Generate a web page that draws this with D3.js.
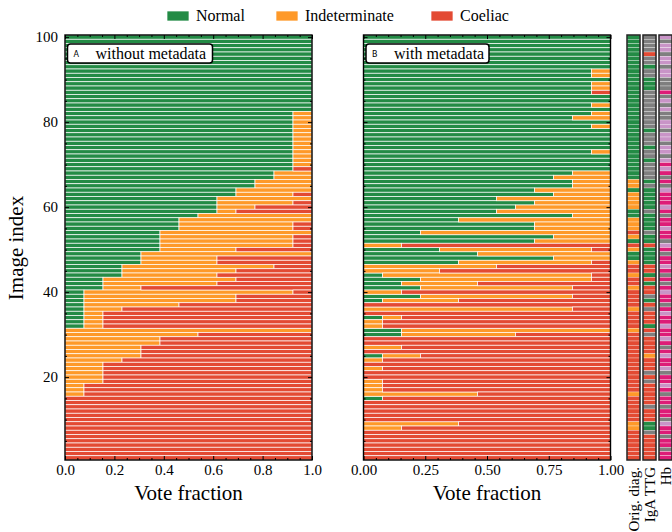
<!DOCTYPE html>
<html>
<head>
<meta charset="utf-8">
<script src="https://cdn.jsdelivr.net/npm/d3@7"></script>
<style>
  body { margin: 0; background: #fff; }
  text { font-family: "Liberation Serif", "DejaVu Serif", serif; fill: #000; }
</style>
</head>
<body>
<div id="chart"></div>
<script>
// 13 raters per image; rows are listed from image index 100 (top) down to 1
var nVotes = 13;
var classes = ['Normal', 'Indeterminate', 'Coeliac'];

var withoutNormal = [
  13,13,13,13,13,13,13,13,13,13, 13,13,13,13,13,13,13,13,12,12,
  12,12,12,12,12,12,12,12,12,12, 12,12,11,11,10,10,9,9,8,8,
  8,8,7,6,6,6,5,5,5,5, 5,4,4,4,3,3,3,2,2,2,
  1,1,1,1,1,1,1,1,1,0, 0,0,0,0,0,0,0,0,0,0,
  0,0,0,0,0,0,0,0,0,0, 0,0,0,0,0,0,0,0,0,0
];
var withoutIndet = [
  0,0,0,0,0,0,0,0,0,0, 0,0,0,0,0,0,0,0,1,1,
  1,1,1,1,1,1,1,1,1,1, 1,0,2,2,3,3,4,3,5,4,
  2,1,6,7,6,6,8,7,7,7, 4,9,4,4,8,6,5,7,6,2,
  11,8,8,5,2,1,1,1,1,13, 7,5,5,4,4,4,3,2,2,2,
  2,2,1,1,1,0,0,0,0,0, 0,0,0,0,0,0,0,0,0,0
];
var withoutCoeliac = [
  0,0,0,0,0,0,0,0,0,0, 0,0,0,0,0,0,0,0,0,0,
  0,0,0,0,0,0,0,0,0,0, 0,1,0,0,0,0,0,1,0,1,
  3,4,0,0,1,1,0,1,1,1, 4,0,5,5,2,4,5,4,5,9,
  1,4,4,7,10,11,11,11,11,0, 6,8,8,9,9,9,10,11,11,11,
  11,11,12,12,12,13,13,13,13,13, 13,13,13,13,13,13,13,13,13,13
];

var withNormal = [
  13,13,13,13,13,13,13,13,12,12, 13,12,12,12,13,13,12,13,12,11,
  13,12,13,13,13,13,13,12,13,13, 13,13,11,10,11,11,9,10,7,9,
  8,7,11,5,9,9,3,10,9,0, 4,6,10,5,0,0,1,3,2,3,
  0,3,1,0,0,0,1,0,0,2, 2,0,0,0,0,1,0,0,0,0,
  0,0,0,0,0,1,0,0,0,0, 0,0,0,0,0,0,0,0,0,0
];
var withIndet = [
  0,0,0,0,0,0,0,0,1,1, 0,1,1,0,0,0,1,0,1,2,
  0,1,0,0,0,0,0,1,0,0, 0,0,2,3,2,2,4,3,6,4,
  5,6,2,8,4,4,10,3,4,2, 8,7,3,7,7,4,11,9,4,8,
  2,8,4,0,11,0,1,1,1,11, 6,0,0,2,0,2,1,0,1,0,
  0,1,1,1,6,0,0,0,0,0, 0,5,2,0,0,0,0,0,0,0
];
var withCoeliac = [
  0,0,0,0,0,0,0,0,0,0, 0,0,0,1,0,0,0,0,0,0,
  0,0,0,0,0,0,0,0,0,0, 0,0,0,0,0,0,0,0,0,0,
  0,0,0,0,0,0,0,0,0,11, 1,0,0,1,6,9,1,1,7,2,
  11,2,8,13,2,13,11,12,12,0, 5,13,13,11,13,10,12,13,12,13,
  13,12,12,12,7,12,13,13,13,13, 13,8,11,13,13,13,13,13,13,13
];

// side strips: N normal, I indeterminate, C coeliac, U not available, L low, H high
var origDiag = [
  'N','N','N','N','N','N','N','N','N','N', 'N','N','N','N','N','N','N','N','N','N',
  'N','N','N','N','N','N','N','N','N','N', 'N','N','N','N','I','I','N','I','I','I',
  'I','N','N','I','I','I','C','I','N','C', 'I','N','N','I','C','C','I','C','C','I',
  'C','C','C','C','I','C','C','C','C','I', 'C','C','C','C','C','C','C','C','C','C',
  'C','C','C','C','I','C','C','C','C','C', 'C','I','I','C','C','C','C','C','C','C'
];
var igaTtg = [
  'U','U','U','U','C','U','U','N','U','U', 'N','N','N','U','U','U','U','U','U','U',
  'U','U','N','U','U','U','N','U','U','N', 'U','U','U','U','N','U','N','N','N','N',
  'N','U','N','N','N','N','U','N','N','C', 'N','N','N','N','C','C','N','C','N','C',
  'C','U','N','C','U','C','C','C','N','C', 'U','C','C','C','C','I','C','C','C','U',
  'C','U','C','C','C','C','C','U','C','C', 'C','N','N','U','C','C','C','C','C','C'
];
var hb = [
  'L','U','L','L','U','L','L','U','L','L', 'U','U','U','H','U','L','U','L','U','U',
  'L','L','U','L','L','U','L','L','U','L', 'H','L','H','U','H','U','L','H','H','H',
  'L','H','U','H','H','L','H','H','U','L', 'H','U','H','H','L','H','U','H','U','H',
  'L','H','H','U','H','L','H','H','L','H', 'H','L','H','U','H','L','H','H','L','U',
  'H','H','L','H','U','H','H','U','H','H', 'U','L','H','H','U','H','H','U','H','H'
];

var classColor = { Normal: '#238b45', Indeterminate: '#fe9929', Coeliac: '#e34a33' };
var diagColor = { N: '#238b45', I: '#fe9929', C: '#e34a33', U: '#7f7f7f' };
var hbColor = { U: '#7f7f7f', L: '#c994c7', H: '#dd1c77' };

var imageIndex = d3.range(100, 0, -1);

var svg = d3.select('#chart')
  .append('svg')
    .attr('width', 672)
    .attr('height', 532);

var y = d3.scaleLinear().domain([0.5, 100.5]).range([460, 35]);
var rowH = y(0.5) - y(1.5);

function drawPanel(x, normal, indet, coeliac, majorTicks, fmt, letter, label, boxW, showYLabels) {
  var table = imageIndex.map(function (idx, k) {
    return { idx: idx, Normal: normal[k] / nVotes, Indeterminate: indet[k] / nVotes, Coeliac: coeliac[k] / nVotes };
  });
  var series = d3.stack().keys(classes)(table);
  var g = svg.append('g');

  g.selectAll('g.series')
    .data(series)
    .enter().append('g')
      .classed('series', true)
      .style('fill', function (s) { return classColor[s.key]; })
    .selectAll('rect')
    .data(function (s) { return s.filter(function (d) { return d[1] - d[0] > 1e-9; }); })
    .enter().append('rect')
      .attr('x', function (d) { return x(d[0]); })
      .attr('width', function (d) { return x(d[1]) - x(d[0]); })
      .attr('y', function (d) { return y(d.data.idx + 0.5); })
      .attr('height', rowH)
      .style('stroke', '#fff')
      .style('stroke-width', 0.7);

  var x0 = x.range()[0], x1 = x.range()[1];
  var minorX = d3.range(0, 1.0001, 0.05).filter(function (v) {
    return !majorTicks.some(function (m) { return Math.abs(m - v) < 1e-6; });
  });
  var majorY = [20, 40, 60, 80, 100];
  var minorY = d3.range(5, 100, 5).filter(function (v) { return v % 20 !== 0; });

  function axisGroup(axis, tx, ty) {
    var a = g.append('g').attr('transform', 'translate(' + tx + ',' + ty + ')').call(axis);
    a.select('.domain').remove();
    a.selectAll('line').style('stroke', '#000').style('stroke-width', 1);
    a.selectAll('text').style('font-family', '"Liberation Serif", serif').style('font-size', '15px');
    return a;
  }

  axisGroup(d3.axisBottom(x).tickValues(majorTicks).tickFormat(fmt).tickSizeInner(-4).tickSizeOuter(0).tickPadding(4), 0, 460);
  axisGroup(d3.axisBottom(x).tickValues(minorX).tickFormat('').tickSizeInner(-2).tickSizeOuter(0), 0, 460);
  axisGroup(d3.axisTop(x).tickValues(majorTicks).tickFormat('').tickSizeInner(-4).tickSizeOuter(0), 0, 35);
  axisGroup(d3.axisTop(x).tickValues(minorX).tickFormat('').tickSizeInner(-2).tickSizeOuter(0), 0, 35);
  axisGroup(d3.axisLeft(y).tickValues(majorY).tickFormat(showYLabels ? d3.format('d') : '').tickSizeInner(-4).tickSizeOuter(0).tickPadding(7), x0, 0);
  axisGroup(d3.axisLeft(y).tickValues(minorY).tickFormat('').tickSizeInner(-2).tickSizeOuter(0), x0, 0);
  axisGroup(d3.axisRight(y).tickValues(majorY).tickFormat('').tickSizeInner(-4).tickSizeOuter(0), x1, 0);
  axisGroup(d3.axisRight(y).tickValues(minorY).tickFormat('').tickSizeInner(-2).tickSizeOuter(0), x1, 0);

  g.append('rect')
    .attr('x', x0).attr('y', 35)
    .attr('width', x1 - x0).attr('height', 425)
    .style('fill', 'none').style('stroke', '#000').style('stroke-width', 1.4);

  g.append('text')
    .attr('x', (x0 + x1) / 2).attr('y', 500)
    .attr('text-anchor', 'middle')
    .style('font-size', '21px')
    .text('Vote fraction');

  var box = g.append('g').attr('transform', 'translate(' + (x0 + 2.5) + ',44)');
  box.append('rect')
    .attr('width', boxW).attr('height', 19).attr('rx', 3)
    .style('fill', '#fff').style('stroke', '#000').style('stroke-width', 1.5);
  box.append('text')
    .attr('x', 6).attr('y', 12.5)
    .style('font-family', '"DejaVu Sans", sans-serif').style('font-size', '8px')
    .text(letter);
  box.append('text')
    .attr('x', 28).attr('y', 14.5)
    .style('font-size', '16px')
    .text(label);
}

drawPanel(d3.scaleLinear().domain([0, 1]).range([65, 312]),
  withoutNormal, withoutIndet, withoutCoeliac,
  [0, 0.2, 0.4, 0.6, 0.8, 1.0], d3.format('.1f'), 'A', 'without metadata', 145, true);
drawPanel(d3.scaleLinear().domain([0, 1]).range([363.5, 610.5]),
  withNormal, withIndet, withCoeliac,
  [0, 0.25, 0.5, 0.75, 1.0], d3.format('.2f'), 'B', 'with metadata', 123, false);

svg.append('text')
  .attr('transform', 'translate(23,248) rotate(-90)')
  .attr('text-anchor', 'middle')
  .style('font-size', '21px')
  .text('Image index');

// metadata strips
var strips = [
  { name: 'Orig. diag.', values: origDiag, colors: diagColor, x: 627 },
  { name: 'IgA TTG', values: igaTtg, colors: diagColor, x: 643 },
  { name: 'Hb', values: hb, colors: hbColor, x: 659 }
];
var stripW = 13;

var sg = svg.selectAll('g.strip')
  .data(strips)
  .enter().append('g')
    .classed('strip', true)
    .attr('transform', function (s) { return 'translate(' + s.x + ',0)'; });

sg.selectAll('rect.cell')
  .data(function (s) {
    return s.values.map(function (v, k) { return { v: v, idx: imageIndex[k], c: s.colors[v] }; });
  })
  .enter().append('rect')
    .classed('cell', true)
    .attr('x', 0)
    .attr('width', stripW)
    .attr('y', function (d) { return y(d.idx + 0.5); })
    .attr('height', rowH)
    .style('fill', function (d) { return d.c; })
    .style('stroke', '#fff')
    .style('stroke-width', 0.5)
    .style('stroke-opacity', 0.6);

sg.append('rect')
  .attr('width', stripW).attr('y', 35).attr('height', 425)
  .style('fill', 'none').style('stroke', '#222').style('stroke-width', 1.5);

sg.append('text')
  .attr('transform', 'translate(' + (stripW - 1.5) + ',467) rotate(-90)')
  .attr('text-anchor', 'end')
  .style('font-size', '15px')
  .text(function (s) { return s.name; });

// legend
var legendItems = [
  { key: 'Normal', x: 167 },
  { key: 'Indeterminate', x: 276 },
  { key: 'Coeliac', x: 431 }
];
var lg = svg.selectAll('g.legend')
  .data(legendItems)
  .enter().append('g')
    .classed('legend', true)
    .attr('transform', function (d) { return 'translate(' + d.x + ',11)'; });
lg.append('rect')
  .attr('width', 22).attr('height', 10)
  .style('fill', function (d) { return classColor[d.key]; })
  .style('stroke', '#fff').style('stroke-width', 0.7);
lg.append('text')
  .attr('x', 29).attr('y', 10)
  .style('font-size', '16px')
  .text(function (d) { return d.key; });
</script>
</body>
</html>
